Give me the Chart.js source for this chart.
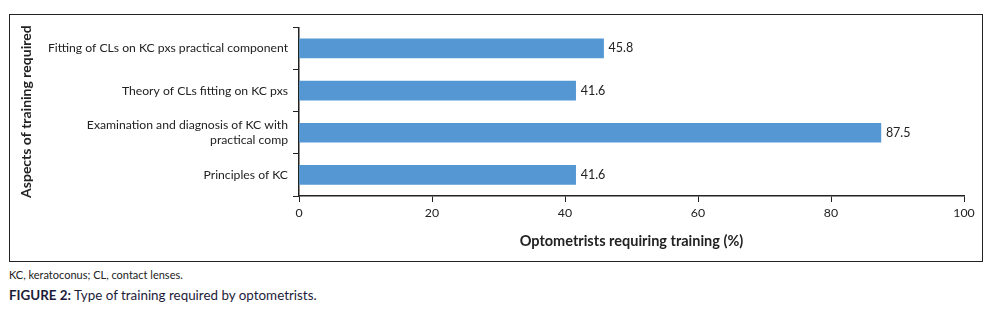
<!DOCTYPE html>
<html>
<head>
<meta charset="utf-8">
<script src="https://cdn.jsdelivr.net/npm/chart.js@4"></script>
<style>
    body { margin: 0; background: #fff; font-family: Lato, "Open Sans", sans-serif; }
    #box { position: absolute; left: 9px; top: 14px; width: 972px; height: 246px; border: 1px solid #222; }
    #chart-wrap { position: absolute; left: 0; top: 0; width: 972px; height: 246px; }
    .note { position: absolute; left: 9px; top: 268px; font-size: 11px; color: #222; }
    .caption { position: absolute; left: 9px; top: 287px; font-size: 13.4px; color: #1c1c3a; }
    .caption b { font-weight: 700; }
</style>
</head>
<body>
<div id="box">
    <div id="chart-wrap"><canvas id="training-chart"></canvas></div>
</div>
<div class="note">KC, keratoconus; CL, contact lenses.</div>
<div class="caption"><b>FIGURE 2:</b> Type of training required by optometrists.</div>
<script>
const categories = [
    'Fitting of CLs on KC pxs practical component',
    'Theory of CLs fitting on KC pxs',
    ['Examination and diagnosis of KC with', 'practical comp'],
    'Principles of KC'
];
const percentRequiring = [45.8, 41.6, 87.5, 41.6];
const xTicks = [0, 20, 40, 60, 80, 100];

const ctx = document.getElementById('training-chart').getContext('2d');

// draws the value next to the end of each bar
const valueLabels = {
    id: 'valueLabels',
    afterDatasetsDraw(chart) {
        const c = chart.ctx;
        const meta = chart.getDatasetMeta(0);
        c.save();
        c.font = '12.5px Lato, sans-serif';
        c.fillStyle = '#222';
        c.textAlign = 'left';
        c.textBaseline = 'middle';
        meta.data.forEach((bar, i) => {
            c.fillText(percentRequiring[i].toFixed(1), bar.x + 5, bar.y);
        });
        c.restore();
    }
};

const trainingChart = new Chart(ctx, {
    type: 'bar',
    data: {
        labels: categories,
        datasets: [{
            data: percentRequiring,
            backgroundColor: '#5597d3',
            barThickness: 19,
        }]
    },
    options: {
        indexAxis: 'y',
        responsive: true,
        maintainAspectRatio: false,
        animation: false,
        layout: { padding: { left: 0, right: 18, top: 10, bottom: 0 } },
        plugins: {
            legend: { display: false },
            tooltip: { enabled: false }
        },
        scales: {
            x: {
                min: 0,
                max: 100,
                afterBuildTicks: scale => { scale.ticks = xTicks.map(v => ({ value: v })); },
                afterFit: scale => { scale.height = 65; },
                grid: { drawOnChartArea: false, tickLength: 6, tickColor: '#222' },
                border: { color: '#222', width: 1.5 },
                ticks: { color: '#222', padding: 4, maxRotation: 0, font: { family: 'Lato', size: 12.3 } },
                title: {
                    display: true,
                    text: 'Optometrists requiring training (%)',
                    color: '#222',
                    font: { family: 'Lato', size: 14.5, weight: 'bold' },
                    padding: { top: 0, bottom: 11 }
                }
            },
            y: {
                afterFit: scale => { scale.width = 289; },
                grid: { drawOnChartArea: false, tickLength: 6, tickColor: '#222' },
                border: { color: '#222', width: 1.5 },
                ticks: { color: '#222', padding: 5, font: { family: 'Lato', size: 12.2 } },
                title: {
                    display: true,
                    text: 'Aspects of training required',
                    color: '#222',
                    font: { family: 'Lato', size: 14, weight: 'bold' },
                    padding: { top: 8, bottom: 0 }
                }
            }
        }
    },
    plugins: [valueLabels]
});
</script>
</body>
</html>
